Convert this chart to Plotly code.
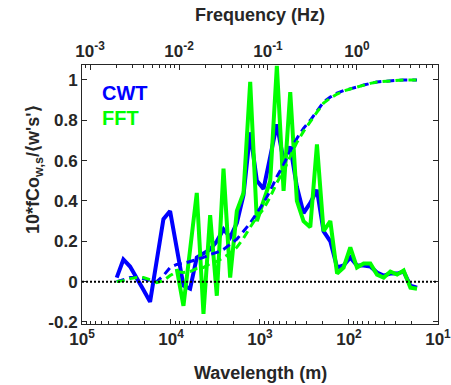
import plotly.graph_objects as go

# Wavelength grid (m)
wavelength = [40738, 34277, 28840, 24266, 20417, 17179, 14454, 12162, 10233, 8610,
              7244, 6095, 5129, 4315, 3631, 3055, 2570, 2163, 1820, 1531,
              1288, 1084, 912, 767, 646, 543, 457, 385, 324, 272,
              229, 193, 162, 136, 115, 96.6, 81.3, 68.4, 57.5, 48.4,
              40.7, 34.3, 28.8, 24.3, 20.4, 17.2]

cwt = [0.02, 0.11, 0.075, 0.02, -0.04, -0.10, 0.10, 0.31, 0.35, 0.17,
       -0.02, -0.035, 0.12, 0.14, 0.16, 0.20, 0.26, 0.22, 0.29, 0.43,
       0.74, 0.50, 0.46, 0.62, 0.78, 0.60, 0.67, 0.47, 0.34, 0.39,
       0.455, 0.25, 0.20, 0.07, 0.08, 0.12, 0.08, 0.08, 0.075, 0.045,
       0.03, 0.04, 0.04, 0.05, -0.02, -0.03]

fft_wavelength = wavelength[9:]
fft = [0.063, -0.12, 0.16, 0.44, -0.16, 0.33, -0.07, 0.56, 0.02, 0.35,
       0.44, 0.99, 0.30, 0.40, 0.50, 1.07, 0.45, 0.94, 0.40, 0.30,
       0.27, 0.68, 0.25, 0.30, 0.04, 0.07, 0.17, 0.07, 0.09, 0.09,
       0.035, 0.02, 0.05, 0.035, 0.055, -0.03, -0.035]

cwt_cum = [0.0, 0.01, 0.02, 0.02, 0.015, 0.005, 0.0, 0.03, 0.07, 0.085,
           0.09, 0.10, 0.11, 0.12, 0.135, 0.145, 0.16, 0.185, 0.21, 0.25,
           0.29, 0.34, 0.39, 0.45, 0.52, 0.58, 0.65, 0.71, 0.76, 0.80,
           0.845, 0.89, 0.915, 0.935, 0.947, 0.955, 0.965, 0.975, 0.983, 0.99,
           0.993, 0.996, 0.998, 1.0, 1.0, 1.0]

fft_cum = [0.0, 0.005, 0.015, 0.02, 0.02, 0.01, -0.005, 0.005, 0.03, 0.05,
           0.045, 0.05, 0.065, 0.07, 0.09, 0.10, 0.12, 0.14, 0.17, 0.215,
           0.27, 0.32, 0.36, 0.42, 0.49, 0.55, 0.62, 0.69, 0.745, 0.79,
           0.84, 0.885, 0.91, 0.93, 0.945, 0.955, 0.965, 0.975, 0.983, 0.99,
           0.993, 0.996, 0.998, 1.0, 1.0, 1.0]

x_tickvals = [1e5, 1e4, 1e3, 1e2, 1e1]
x_ticktext = ["10<sup>5</sup>", "10<sup>4</sup>", "10<sup>3</sup>", "10<sup>2</sup>", "10<sup>1</sup>"]
f_tickvals = [1e-3, 1e-2, 1e-1, 1e0]
f_ticktext = ["10<sup>-3</sup>", "10<sup>-2</sup>", "10<sup>-1</sup>", "10<sup>0</sup>"]
y_tickvals = [-0.2, 0, 0.2, 0.4, 0.6, 0.8, 1]
y_ticktext = ["-0.2", "0", "0.2", "0.4", "0.6", "0.8", "1"]

BLUE = "#0000ff"
GREEN = "#00ff00"
AX = "#262626"
FONT = "Liberation Sans, Arial, sans-serif"

fig = go.Figure()
fig.add_trace(go.Scatter(x=wavelength, y=cwt, mode="lines",
                         line=dict(color=BLUE, width=4), showlegend=False))
fig.add_trace(go.Scatter(x=fft_wavelength, y=fft, mode="lines",
                         line=dict(color=GREEN, width=4), showlegend=False))
fig.add_trace(go.Scatter(x=wavelength, y=cwt_cum, mode="lines",
                         line=dict(color=BLUE, width=3, dash="8px,5px"), showlegend=False))
fig.add_trace(go.Scatter(x=wavelength, y=fft_cum, mode="lines",
                         line=dict(color=GREEN, width=3, dash="8px,5px"), showlegend=False))
# dummy trace for frequency axis
fig.add_trace(go.Scatter(x=[1e-2], y=[None], xaxis="x2", mode="lines",
                         showlegend=False, hoverinfo="skip"))

fig.add_shape(type="line", xref="paper", x0=0, x1=1, yref="y", y0=0, y1=0,
              line=dict(color="black", width=2, dash="2px,2px"))

tickfont = dict(family=FONT, size=17, color=AX, weight="bold")
axis_common = dict(showline=True, linecolor=AX, linewidth=1, ticks="inside",
                   tickcolor=AX, showgrid=False, zeroline=False, automargin=False,
                   tickfont=tickfont, ticklabeloverflow="allow")

fig.update_layout(
    width=451, height=385,
    margin=dict(l=82, r=13, t=65, b=61),
    paper_bgcolor="white", plot_bgcolor="white",
    font=dict(family=FONT, color=AX),
    xaxis=dict(type="log", range=[5, 0.9995], tickvals=x_tickvals, ticktext=x_ticktext,
               ticklen=5, minor=dict(ticks="inside", ticklen=3, tickcolor=AX, dtick="D1"),
               **axis_common),
    xaxis2=dict(type="log", range=[-3.09, 0.9105], overlaying="x", side="top",
                anchor="y", tickvals=f_tickvals, ticktext=f_ticktext, ticklen=5,
                minor=dict(ticks="inside", ticklen=3, tickcolor=AX, dtick="D1"),
                **axis_common),
    yaxis=dict(range=[-0.21, 1.074], tickvals=y_tickvals, ticktext=y_ticktext,
               ticklen=5, mirror="ticks", **axis_common),
)

title_font = dict(family=FONT, size=18, color=AX, weight="bold")
fig.add_annotation(xref="paper", yref="paper", x=-0.132, y=0.595,
                   text="10*fCo<sub>w,s</sub>/⟨w's'⟩", textangle=-90,
                   showarrow=False, font=title_font,
                   xanchor="center", yanchor="middle")
fig.add_annotation(xref="paper", yref="paper", x=0.5, y=-49 / 259,
                   text="Wavelength (m)", showarrow=False, font=title_font,
                   xanchor="center", yanchor="middle")
fig.add_annotation(xref="paper", yref="paper", x=0.5, y=1 + 50 / 259,
                   text="Frequency (Hz)", showarrow=False, font=title_font,
                   xanchor="center", yanchor="middle")
fig.add_annotation(xref="paper", yref="paper", x=0.05, y=0.892,
                   text="CWT", showarrow=False, xanchor="left", yanchor="middle",
                   font=dict(family=FONT, size=20, color=BLUE, weight="bold"))
fig.add_annotation(xref="paper", yref="paper", x=0.05, y=0.797,
                   text="FFT", showarrow=False, xanchor="left", yanchor="middle",
                   font=dict(family=FONT, size=20, color=GREEN, weight="bold"))

fig.write_html("out.html", config={"displayModeBar": False},
               post_script="document.body.style.margin='0px';document.body.style.padding='0px';")
